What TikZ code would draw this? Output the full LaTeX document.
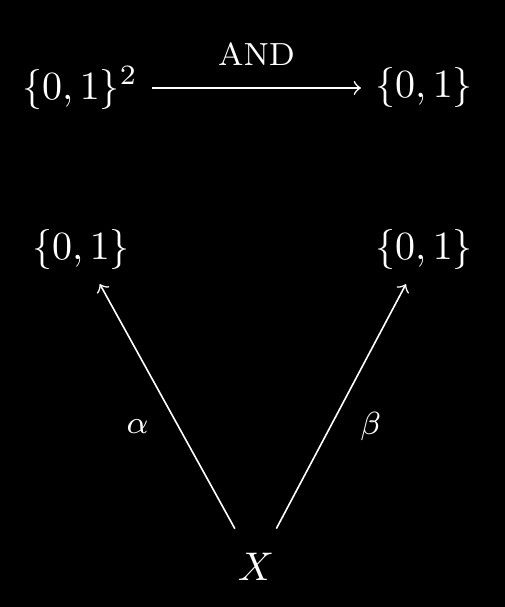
\documentclass[tikz,border=0pt]{standalone}
\usetikzlibrary{arrows}
\begin{document}
\begin{tikzpicture}[x=1pt,y=1pt,>=to,color=white]

        \useasboundingbox (0,0) rectangle (126,151.75);
        \fill[black] (-2,-2) rectangle (128,153.75);

        \begin{scope}[every node/.style={text=white}]
          \node (pairs) at (20,129.75)   {$\{0,1\}^2$};
          \node (bit)   at (106,129.75)  {$\{0,1\}$};
          \node (left)  at (20.25,89.25) {$\{0,1\}$};
          \node (right) at (106,89.25)   {$\{0,1\}$};
          \node (x)     at (64,10)       {$X$};
        \end{scope}

        \begin{scope}[every node/.style={text=white,font=\footnotesize}]
          \begin{scope}[every edge/.style={draw,->}]
            \path (pairs) edge node[above=2pt] {AND} (bit);
            \path (x) edge[shorten <=3pt] node[pos=0.44,left=4pt] {$\alpha$} (left);
            \path (x) edge[shorten <=3pt] node[pos=0.44,right=4pt] {$\beta$} (right);
          \end{scope}
        \end{scope}

      \end{tikzpicture}
\end{document}
